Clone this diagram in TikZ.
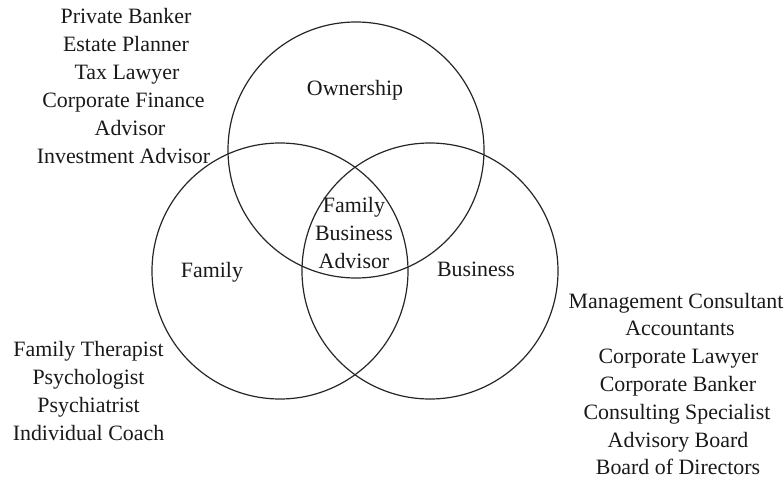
\documentclass[tikz,border=0pt]{standalone}
\usepackage{fontspec}
\setmainfont{Liberation Serif}
\begin{document}
\begin{tikzpicture}[x=0.5pt,y=-0.5pt,
  ring/.style={circle,draw=black!85,line width=0.6pt,minimum size=128pt,inner sep=0pt},
  lbl/.style={anchor=base,inner sep=0pt,font=\fontsize{10.95}{14}\selectfont,text=black!90}]
  \useasboundingbox (0,0) rectangle (784,482);
  % the three overlapping circles
  \node[ring] (own) at (356,150) {};
  \node[ring] (fam) at (280,271) {};
  \node[ring] (bus) at (430,271) {};
  % circle titles
  \node[lbl] (townership) at (355,96) {Ownership};
  \node[lbl] (tfamily) at (212,278) {Family};
  \node[lbl] (tbusiness) at (476,277) {Business};
  \node[lbl] (c1) at (354,213) {Family};
  \node[lbl] (c2) at (354,240.5) {Business};
  \node[lbl] (c3) at (354,268) {Advisor};
  % advisers around the ownership circle
  \foreach \t/\xx [count=\i] in {Private Banker/126,Estate Planner/126,Tax Lawyer/127,Corporate Finance/123.5,Advisor/130,Investment Advisor/123.5}
    \node[lbl] (o\i) at (\xx,{23.3+28*(\i-1)}) {\t};
  % advisers around the family circle
  \foreach \t [count=\i] in {Family Therapist,Psychologist,Psychiatrist,Individual Coach}
    \node[lbl] (f\i) at (88.5,{356.5+28*(\i-1)}) {\t};
  % advisers around the business circle
  \foreach \t/\xx [count=\i] in {Management Consultant/676,Accountants/680,Corporate Lawyer/678.5,Corporate Banker/678,Consulting Specialist/677,Advisory Board/678,Board of Directors/678}
    \node[lbl] (b\i) at (\xx,{308+27.8*(\i-1)}) {\t};
\end{tikzpicture}
\end{document}
